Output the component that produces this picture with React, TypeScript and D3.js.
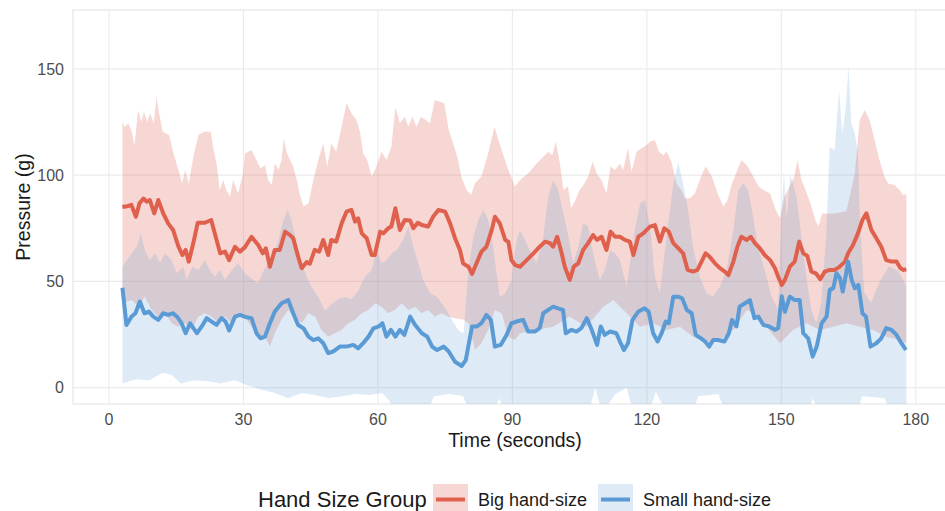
import React from "react";
import * as d3 from "d3";

type P = [number, number];

const xTicks = [0, 30, 60, 90, 120, 150, 180];
const yTicks = [0, 50, 100, 150];
const groups = ["Big hand-size", "Small hand-size"];

const bigMean: P[] = [[3,85],[4.3,85.5],[5,86],[6,80.4],[6.8,86.7],[7.7,89],[8.4,87.5],[9.1,88.3],[10.1,82],[11,88.3],[12.1,82],[13.2,77.3],[14.3,74.2],[15.5,66.3],[16.4,62.4],[17.1,64.8],[17.8,59.3],[18.8,67.9],[19.8,77.6],[21.4,77.6],[22.8,78.9],[23.6,72.6],[24.8,63.2],[25.9,64],[26.8,60],[28.1,66.3],[29.2,64],[30.3,66],[31.8,71],[33.3,67.1],[34.3,63.2],[35,65.6],[35.9,56.9],[37,64.8],[38.1,64.8],[39.3,73.4],[40.4,71.8],[41.1,70.3],[42.2,61.6],[43,56.2],[44.1,59.1],[44.8,58.3],[45.9,64.8],[46.9,64],[47.8,69.5],[48.9,62.4],[49.6,69.5],[50.7,68.7],[51.9,77.3],[53,82.8],[54.1,83.6],[54.9,78.1],[55.6,79.6],[56.4,72.6],[57.5,70.3],[58.6,62.4],[59.3,62.4],[60.5,73.4],[61.2,72.6],[62.3,75],[63,75.8],[63.9,84.4],[64.9,74.2],[66,78.9],[67.2,78.6],[67.9,75],[68.9,77.6],[69.8,76.5],[71.2,75.8],[72.3,80.4],[73.5,83.6],[75,82.8],[76.1,77.3],[77.2,70.3],[78.3,64.8],[79,58.5],[80.2,56.9],[81,53.5],[82,58.5],[83.1,64],[84.2,66.3],[85.4,74.2],[86.1,80.4],[87.2,77.3],[88.4,69.5],[89.1,68.7],[89.8,60],[90.6,57.7],[91.7,56.9],[93.2,60],[94.7,63.2],[96.1,66.3],[97.3,68.7],[98.4,68],[99.1,66.3],[100,71],[101,63.2],[101.7,56.9],[102.8,50.7],[103.7,56.9],[104.7,58.5],[105.8,64.8],[106.9,68],[108,71.8],[108.9,69.5],[109.9,71],[111,64.8],[111.9,73.4],[112.9,71],[114,71],[115.1,69.5],[116.2,68.7],[117,62.4],[118.1,71],[119.2,72.6],[120.7,75.8],[121.8,76.5],[122.9,68.7],[123.9,75],[124.9,73.4],[125.9,68],[127,65.6],[128.1,63.2],[129.1,55.4],[130.3,54.6],[131.3,55.4],[132.2,59.3],[133.1,63.2],[134,61.6],[135.2,58.5],[136.3,56.2],[137.4,54.6],[138.2,53],[139.3,59.3],[140.2,66.3],[141.1,71],[142.3,69.5],[143.2,71],[144.1,68],[145.2,65.6],[146.3,62.4],[147.5,60],[148.6,56.2],[149.3,52.2],[150.1,48.3],[150.8,50.7],[151.9,56.9],[153,59.3],[154,68.7],[154.9,63.2],[155.8,62],[156.7,54.6],[157.7,53.8],[158.7,51],[159.7,54.6],[160.8,55.4],[161.9,55.4],[162.9,56.7],[164.2,59.3],[164.9,63.2],[166,67.1],[167.1,72.6],[168.1,78.9],[169,82],[170.1,74.2],[171.2,70.3],[172.3,66.3],[173.4,60],[174.6,59.3],[175.7,59.3],[176.6,56.2],[177.3,55.4],[177.9,55.7]];

const smallMean: P[] = [[3,47],[3.9,29.5],[5,33.4],[5.9,35],[6.9,40.5],[7.9,35],[8.9,35.8],[9.9,33.4],[11,31.9],[12.1,35],[13.2,34.2],[14.3,35],[15.3,33.1],[16.2,30.3],[17.1,25.6],[18.1,30.3],[19.6,25.6],[20.7,28.8],[21.8,32.7],[22.9,31.1],[24,29.5],[25.1,32.7],[26,31.1],[26.8,26.9],[28.1,33.4],[29.2,34.2],[30.7,33.1],[31.8,32.7],[32.9,25.6],[33.8,23.2],[34.8,24],[35.9,30.3],[37,35.8],[38.5,39.7],[40,41.2],[41.1,35],[42.2,29.5],[43.4,27.9],[44.5,24],[45.6,22.4],[46.7,23.2],[47.8,20.9],[48.9,16.2],[50,17],[51.5,19.3],[53,19.3],[54.5,20.1],[55.6,18.5],[56.7,20.9],[57.9,24],[59,27.9],[60.2,28.8],[61,30.3],[61.9,24],[62.9,27.2],[63.9,24],[64.9,27.2],[65.9,24.8],[67.2,33.4],[68.3,29.5],[69.8,25.6],[71,24],[72.1,19.3],[73.2,17.7],[74.7,19.3],[75.8,17],[77.2,12.2],[78.7,10.2],[79.6,13],[81,28.8],[82.1,28.8],[83.1,30.3],[84.2,34.2],[85.2,31.9],[86.1,19.3],[87.4,20.1],[88.7,24.8],[89.8,30.3],[90.9,31.1],[92.4,31.9],[93.5,26.4],[95,26.4],[96.1,28],[96.9,35],[98,36.6],[99.1,38.1],[100.2,37.3],[101.3,36.6],[101.9,25.6],[103.2,27.2],[104.3,26.4],[105.4,28],[106.6,32.7],[107.7,27.2],[108.9,20.1],[109.7,28.8],[110.6,24.8],[111.8,26.4],[113.2,25.6],[114,21.7],[114.9,17.7],[115.8,20.9],[116.8,31.9],[118.1,35.8],[119.5,37.3],[120.4,35.8],[121.4,25.6],[122.4,21.7],[123.3,25.6],[124.2,31.1],[124.9,30.3],[125.9,42.8],[127,42.8],[127.9,42],[128.9,36.6],[130,35],[130.9,24.8],[132.1,23.2],[133,21.7],[133.9,19.3],[134.8,22.4],[135.9,22.4],[137.3,21.7],[138.3,25.6],[139,31.9],[140,28.8],[140.7,38.1],[141.9,39.7],[143,41.2],[144,32.7],[144.9,33.4],[146,29.5],[147.3,28.8],[148.6,27.2],[149.3,28],[150.1,43],[150.8,35.7],[151.9,42.8],[153,41.2],[154.1,41.2],[154.9,25.6],[156,23.2],[157,14.6],[157.9,19.3],[159,30.3],[160.1,33.4],[160.8,46],[161.6,46.8],[162.3,53.8],[163.1,51.5],[163.7,45.2],[164.4,53],[164.9,59.3],[165.7,50.7],[166.4,46.8],[167.2,48.3],[168.1,35],[168.9,33.4],[169.9,19.3],[171.2,20.9],[172.3,23.2],[173.4,28],[174.6,27.2],[175.7,24.8],[176.8,20.9],[177.8,17.7]];

const bigUpper: P[] = [[3,125],[3.5,122.8],[4.3,124.3],[5,121],[5.7,114],[6.5,130.6],[7.2,125],[7.8,129.8],[8.5,125],[9.2,129],[10,124.4],[10.6,136.9],[11.2,129],[12,120.4],[13.4,118.9],[14.5,109.5],[15.6,101.6],[16.3,96.1],[17,102.4],[17.8,96.1],[18.9,109.5],[20,119],[21.3,120.4],[22.7,120.4],[23.2,113.4],[24,105.5],[24.7,93],[25.5,97.7],[26.2,93],[27,89.8],[27.7,97.7],[28.8,91.4],[29.9,100.8],[30.3,110],[31.8,111.8],[32.9,107.1],[33.8,103.2],[34.8,104.7],[35.5,97.7],[36.3,95.4],[37,105.5],[37.8,102.4],[38.5,107.1],[39,117.3],[39.6,111],[40.4,107.1],[41.1,104],[41.9,97.7],[42.6,90.7],[43.4,85.2],[44.5,86.7],[45.6,97.7],[46.7,107.1],[47.8,114.9],[48.7,104],[49.6,114.9],[50.7,111],[51.9,122.8],[53,133.8],[54.1,129.1],[55.2,125.9],[56,120.4],[56.7,110.2],[57.6,107.1],[58.6,99.3],[59.7,104],[60.8,111],[61.9,107.1],[63,113.4],[63.9,132.2],[64.9,124.4],[66,127.5],[66.8,122.8],[67.7,127.5],[68.6,122.8],[69.6,127.5],[70.6,126],[71.6,124.4],[72.7,135.3],[73.8,134.5],[74.8,133.8],[75.8,121.2],[76.8,114.9],[77.8,107.9],[78.7,98.5],[79.8,93],[80.8,90.6],[81.6,96.1],[83.1,99.3],[84.6,110.2],[86,122.8],[87,115.7],[88,109.4],[89.1,102.4],[90.6,94.6],[91.7,97.7],[93.5,100.8],[95.4,105.5],[96.9,108.6],[98,111],[98.9,109.4],[99.7,115.7],[100.6,105.5],[101.4,93],[102.4,94.6],[103.1,84.4],[103.9,87.5],[105,93],[106.1,96.1],[106.9,99.3],[107.9,106.3],[108.8,100.8],[109.9,97.7],[111,91.4],[111.9,104],[112.9,102.4],[114,105.5],[114.7,102.4],[115.8,112.6],[116.6,101.6],[117.7,111],[118.8,112.6],[119.9,114.1],[120.7,115.7],[121.8,116.5],[122.7,111],[123.7,109.4],[124.4,111],[125.5,106.3],[126.6,96.1],[127.7,93],[128.5,89.1],[129.6,89.1],[130.7,91.4],[132.1,99.3],[133.1,104],[134.5,99.3],[135.8,91.4],[137.1,85.2],[138,88.3],[139,96.1],[140.2,102.4],[141.1,107.1],[142.3,104.7],[143.4,100.8],[144.9,94.6],[146,93],[147.5,91.4],[148.6,84.4],[149.7,79.7],[150.7,89.8],[151.8,94.5],[152.9,99.3],[153.6,107.1],[154.5,97.7],[155.4,93],[156.5,86.7],[157.6,78.9],[158.3,75.8],[159.1,82],[161.9,82],[164.5,83],[166.4,100.8],[167.5,125.9],[168.6,130.6],[169.7,125.9],[170.8,116.5],[171.9,107.1],[173,99.3],[173.8,96.1],[175.3,95.4],[176.4,93],[177.1,90.6],[177.9,91]];

const bigLower: P[] = [[3,39.7],[5.1,41.2],[6.6,38.1],[8,42.9],[9.5,36.5],[11,33.4],[12.5,35],[14,30.3],[15.5,28.7],[17,30.3],[18.4,27.1],[19.9,33.4],[21.4,35],[22.9,33.4],[24.4,30.3],[25.9,33.4],[27.4,30.3],[28.8,35],[30.3,33.4],[31.8,28.7],[33.3,24],[34.8,24],[35.9,19.3],[37,25.6],[38.5,31.9],[40,36.5],[41.5,33.4],[43,30.3],[44.5,35],[46,33.4],[47.4,27.1],[48.9,24],[50.4,25.6],[51.9,27.1],[53.4,30.3],[54.9,31.9],[56.4,35],[57.9,36.5],[59.4,39.7],[60.8,38.1],[62.3,35],[63.8,36.5],[65.3,39.7],[66.8,36.5],[68.3,38.1],[69.7,35],[71.2,36.5],[72.7,33.4],[74.2,35],[75.7,33.4],[77.2,32.7],[79.1,31.9],[80.2,30.3],[81.7,17.7],[83.1,20.9],[84.6,27.1],[86.1,36.5],[87.6,35],[89.1,24],[90.6,22.4],[91.7,25.6],[95,27],[99.1,28.7],[102.8,33.4],[106.5,28.7],[110.3,38.1],[112.5,41.2],[115.5,35],[118.5,28.7],[121.4,30.3],[124.4,27.1],[127.4,28.7],[130.3,24],[133.3,20.9],[136.3,22.4],[139.3,27.1],[142.3,36.5],[143.7,35],[146.7,28.7],[149.7,20.9],[152.6,27.1],[155.6,30.3],[158.6,27.1],[161.6,28.7],[164.5,30.3],[167.5,28.7],[170.5,27.1],[173.4,24],[176.4,22.4],[177.9,20.9]];

const smallUpper: P[] = [[3,57],[5.1,63.2],[6.2,66.3],[7.1,72.6],[8,64.8],[9.1,60],[10.3,63.2],[11.4,58.6],[12.5,63.2],[14,60],[15.1,53.8],[16.6,56.9],[17.3,50.7],[18.6,56.9],[19.9,55.4],[21.4,60],[22.5,55.4],[23.6,52.2],[24.8,55.4],[25.9,50.7],[27.4,55.4],[28.8,58.6],[30.3,53.8],[32.2,50.7],[33.3,49.1],[34.4,54.6],[35.5,58.6],[36.7,61.6],[37.8,69.5],[38.9,78.9],[39.9,83.6],[40.7,78.9],[41.9,68],[43,58.6],[44.1,52.2],[45.2,47.3],[46.7,42.6],[48.2,36.3],[49.7,39.4],[51.2,41.7],[52.6,42.6],[54.1,41.7],[55.6,45.5],[57.1,52.2],[58.6,55.4],[59.7,64.8],[60.8,58.6],[61.9,60],[63.1,63.2],[64.2,64.8],[65.6,69.5],[66.8,75.8],[67.9,66.3],[69,58.6],[70.1,50.7],[71.6,44.4],[73.1,42.9],[74.2,39.7],[75.3,36.5],[76.5,31.9],[77.9,27.1],[79.1,25.6],[80.2,55.4],[81.3,71],[82.4,78.9],[83.5,83.6],[84.6,78.9],[85.7,66.3],[87.2,42.6],[88.3,44.1],[89.8,50.4],[90.8,68],[91.7,74.2],[93.9,64.8],[95.4,58.5],[96.9,71],[98,89.8],[99.1,97.7],[100.2,93],[101.4,82],[102.5,71],[103.6,58.5],[104.7,66.3],[105.8,77.3],[106.9,75.8],[108,63.2],[109.5,50.7],[110.6,55.4],[111.8,64.8],[112.9,63.2],[114,60],[115.5,47.6],[117.3,74.2],[118.5,86.7],[119.6,88.3],[120.7,75.8],[121.8,52.3],[122.9,44.4],[124.4,71],[125.9,96.1],[127,106],[128.1,96.1],[129.2,83.6],[130.3,66.3],[131.8,52.2],[133.3,44.4],[134.8,42.9],[136.3,47.6],[137.8,55.4],[139.3,74.2],[140.4,93],[141.5,96.1],[142.6,93],[143.7,80.4],[144.8,66.3],[146.3,55.4],[147.8,42.9],[149.3,36.6],[150,80.4],[150.6,101],[151.2,78.9],[152,100],[153.4,89.8],[154.5,71],[155.6,52.2],[156.7,36.6],[157.8,30.3],[158.9,39.7],[160,71],[160.8,113.4],[161.9,111.8],[162.9,140],[163.6,119.6],[164.4,132.2],[165,151],[165.6,124.4],[166.4,119.6],[167.1,110.2],[167.6,75],[168.5,45],[170,40],[172,50],[174,57],[176,55],[177.9,48]];

const smallLower: P[] = [[3,2],[6,4],[9,3.5],[12,7],[14,6],[16,2],[19,3.5],[22,3],[25,2],[28,3.5],[31,1],[34,-1],[37,-2.5],[40,-5],[43,-2.5],[46,-3.5],[49,-5],[52,-4],[55,-3],[58,-3.5],[61,-2.5],[62.5,-6],[64,-12],[71,-12],[72.5,-4],[76,-3],[79,-4],[80.5,-12],[86,-12],[87,-5],[88.5,-12],[107,-12],[108.5,0],[110,-12],[113,-3],[115.5,0],[117,-12],[120.5,-12],[122,-2],[124.5,-12],[130,-12],[131.5,-4],[136,-3],[137.5,-12],[156,-12],[157,-5],[158.5,-12],[167,-12],[168,-4],[173,-5],[174.5,-12],[177.9,-12]];

const RED = "#E0604E";
const BLUE = "#5A9BD5";
const FONT = "'Liberation Sans', Arial, sans-serif";

const L = 73, R = 957, T = 10, B = 404;

export default function App() {
  const x = d3.scaleLinear().domain([-8.03, 189.2]).range([L, R]);
  const y = d3.scaleLinear().domain([-7.7, 177.7]).range([B, T]);
  const line = d3.line<P>().x((d) => x(d[0])).y((d) => y(d[1]));
  const ribbon = (up: P[], lo: P[]) => line([...up, ...lo.slice().reverse()]) + "Z";
  const grid = "#EBEBEB";

  return (
    <svg width={945} height={511} style={{ position: "absolute", left: 0, top: 0, background: "#fff" }} fontFamily={FONT}>
      <defs>
        <clipPath id="panel">
          <rect x={L} y={T} width={R - L} height={B - T} />
        </clipPath>
      </defs>
      <rect x={0} y={0} width={945} height={511} fill="#fff" />
      {xTicks.map((t) => (
        <line key={"gx" + t} x1={x(t)} x2={x(t)} y1={T} y2={B} stroke={grid} strokeWidth={1.1} />
      ))}
      {yTicks.map((t) => (
        <line key={"gy" + t} x1={L} x2={R} y1={y(t)} y2={y(t)} stroke={grid} strokeWidth={1.1} />
      ))}
      <rect x={L} y={T} width={R - L} height={B - T} fill="none" stroke="#E3E3E3" strokeWidth={1.1} />
      <g clipPath="url(#panel)">
        <path d={ribbon(bigUpper, bigLower)} fill={RED} fillOpacity={0.25} />
        <path d={ribbon(smallUpper, smallLower)} fill={BLUE} fillOpacity={0.2} />
        <path d={line(bigMean) || ""} fill="none" stroke={RED} strokeWidth={4} strokeLinejoin="round" strokeLinecap="butt" />
        <path d={line(smallMean) || ""} fill="none" stroke={BLUE} strokeWidth={4} strokeLinejoin="round" strokeLinecap="butt" />
      </g>
      {yTicks.map((t) => (
        <text key={"ty" + t} x={64} y={y(t)} dy="0.36em" textAnchor="end" fontSize={16} fill="#4D4D4D">{t}</text>
      ))}
      {xTicks.map((t) => (
        <text key={"tx" + t} x={x(t)} y={425} textAnchor="middle" fontSize={16} fill="#4D4D4D">{t}</text>
      ))}
      <text x={(L + R) / 2} y={447} textAnchor="middle" fontSize={19.5} fill="#1A1A1A">Time (seconds)</text>
      <text transform={`translate(30,${(T + B) / 2}) rotate(-90)`} textAnchor="middle" fontSize={19.5} fill="#1A1A1A">Pressure (g)</text>
      <text x={258} y={507} fontSize={22} fill="#1A1A1A">Hand Size Group</text>
      {groups.map((g, i) => {
        const kx = i === 0 ? 433 : 598;
        const col = i === 0 ? RED : BLUE;
        const op = i === 0 ? 0.25 : 0.2;
        return (
          <g key={g}>
            <rect x={kx} y={484} width={35} height={32} fill={col} fillOpacity={op} />
            <line x1={kx + 3} x2={kx + 32} y1={499.5} y2={499.5} stroke={col} strokeWidth={4} />
            <text x={kx + 45} y={505.5} fontSize={18} fill="#1A1A1A">{g}</text>
          </g>
        );
      })}
    </svg>
  );
}
